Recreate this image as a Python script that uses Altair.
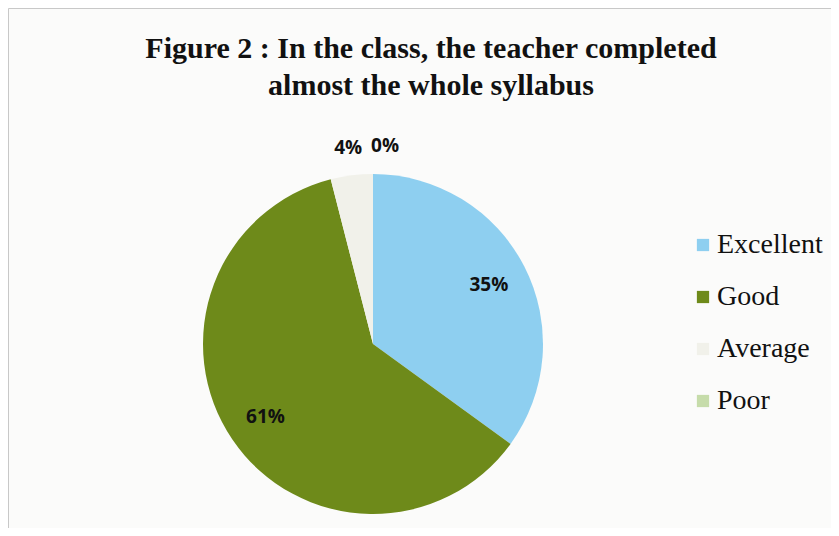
import altair as alt
import pandas as pd

categories = ["Excellent", "Good", "Average", "Poor"]
values = [35, 61, 4, 0]
labels = ["35%", "61%", "4%", "0%"]
colors = ["#8ecff0", "#6e8a1a", "#f1f1ea", "#c6dcaa"]
title_lines = ["Figure 2 : In the class, the teacher completed", "almost the whole syllabus"]

df = pd.DataFrame({"category": categories, "value": values, "label": labels,
                   "order": list(range(len(categories)))})

W, H = 823, 520
cx, cy = 365, 336

base = alt.Chart(df).encode(
    theta=alt.Theta("value:Q", stack=True),
    order=alt.Order("order:Q"),
)

color = alt.Color(
    "category:N",
    scale=alt.Scale(domain=categories, range=colors),
    sort=categories,
    legend=alt.Legend(
        title=None, orient="none", legendX=681, legendY=223, padding=0,
        symbolType="square", symbolSize=150, symbolStrokeWidth=0,
        labelFont="Liberation Serif", labelFontSize=28, labelColor="#111111",
        rowPadding=24, labelOffset=0, labelLimit=300,
    ),
)

pie = base.mark_arc(outerRadius=170, stroke=None).encode(
    color=color, x=alt.value(cx), y=alt.value(cy)
)

txt = dict(font="Open Sans", fontWeight="bold", fontSize=19, color="#111111")

inner = base.mark_text(radius=130, **txt).encode(
    text="t:N", x=alt.value(cx), y=alt.value(cy)
).transform_calculate(t="datum.value >= 10 ? datum.label : ''")

out_avg = base.mark_text(radius=198, **txt).encode(
    text="t:N", x=alt.value(cx), y=alt.value(cy)
).transform_calculate(t="datum.category == 'Average' ? datum.label : ''")

out_poor = base.mark_text(radius=198, dx=12, **txt).encode(
    text="t:N", x=alt.value(cx), y=alt.value(cy)
).transform_calculate(t="datum.category == 'Poor' ? datum.label : ''")

tdf = pd.DataFrame({"t": title_lines, "i": [0, 1]})
ttl = dict(font="Liberation Serif", fontWeight="bold", fontSize=30,
           color="#111111", baseline="alphabetic")
title1 = alt.Chart(tdf).mark_text(**ttl).encode(
    text="t:N", x=alt.value(423), y=alt.value(50)
).transform_filter("datum.i == 0")
title2 = alt.Chart(tdf).mark_text(**ttl).encode(
    text="t:N", x=alt.value(423), y=alt.value(87)
).transform_filter("datum.i == 1")

chart = alt.layer(pie, inner, out_avg, out_poor, title1, title2).properties(
    width=W, height=H,
    autosize=alt.AutoSizeParams(type="none"),
    padding={"left": 0, "top": 0, "right": 0, "bottom": 0},
    background="#fbfbfa",
).configure_view(stroke="#c8c8c8", strokeWidth=1)

chart.save("out.html", embed_options={"renderer": "svg", "actions": False})
